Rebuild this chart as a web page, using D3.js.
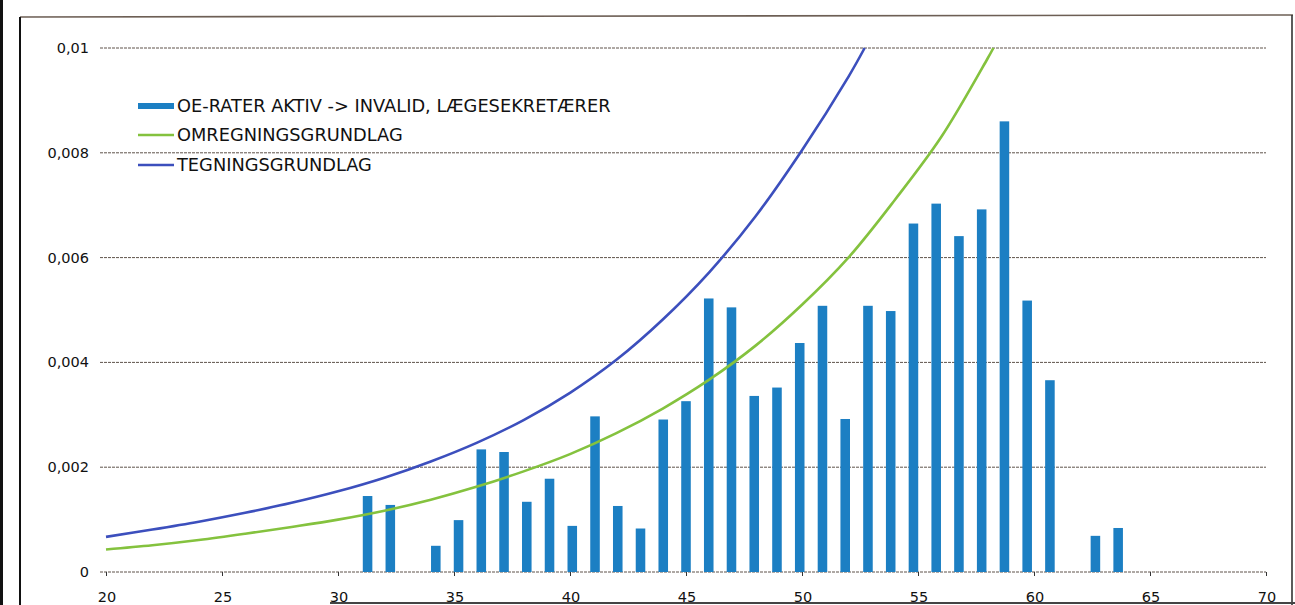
<!doctype html>
<html lang="da">

<head>
    <meta charset="UTF-8" />
    <title>OE-rater aktiv -> invalid</title>
    <script src="https://d3js.org/d3.v7.min.js"></script>
    <style>
        body,
        html {
            margin: 0;
            padding: 0;
            background: #ffffff;
            overflow: hidden;
        }
        
        svg {
            display: block;
            font-family: "DejaVu Sans", Verdana, sans-serif;
        }
        
        .grid line {
            stroke: #5e534b;
            stroke-width: 1;
            stroke-dasharray: 3, 1;
        }
        
        .tick-label {
            font-size: 14.5px;
            fill: #111;
        }
        
        .legend text {
            font-size: 17.8px;
            fill: #111;
        }
    </style>
</head>

<body>
    <svg id="chart" width="1295" height="605"></svg>
    <script>
        // bars: observed rates per age
        const barAges = [31, 32, 34, 35, 36, 37, 38, 39, 40, 41, 42, 43, 44, 45, 46, 47, 48, 49, 50,
            51, 52, 53, 54, 55, 56, 57, 58, 59, 60, 61, 63, 64
        ];
        const barValues = [0.00145, 0.00128, 0.00050, 0.00099, 0.00234, 0.00229, 0.00134, 0.00178,
            0.00088, 0.00297, 0.00126, 0.00083, 0.00291, 0.00326, 0.00522, 0.00505, 0.00336,
            0.00352, 0.00437, 0.00508, 0.00292, 0.00508, 0.00498, 0.00665, 0.00703, 0.00641,
            0.00692, 0.00860, 0.00518, 0.00366, 0.00069, 0.00084
        ];

        // TEGNINGSGRUNDLAG (blue line)
        const tegningAges = [20, 22, 24, 26, 28, 30, 32, 34, 36, 38, 40, 42, 44, 46, 48, 50, 52, 52.7];
        const tegningValues = [0.00067, 0.00081, 0.00096, 0.00113, 0.00132, 0.00154, 0.00180, 0.00211,
            0.00247, 0.00290, 0.00342, 0.00405, 0.00482, 0.00572, 0.00679, 0.00805, 0.00945, 0.01
        ];

        // OMREGNINGSGRUNDLAG (green line)
        const omregningAges = [20, 22, 24, 26, 28, 30, 32, 34, 36, 38, 40, 42, 44, 46, 48, 50, 52, 54, 56, 58, 58.25];
        const omregningValues = [0.00043, 0.00051, 0.00061, 0.00073, 0.00086, 0.00100, 0.00117, 0.00138,
            0.00163, 0.00192, 0.00225, 0.00265, 0.00312, 0.00367, 0.00432, 0.00510, 0.00600,
            0.00710, 0.00830, 0.00980, 0.01
        ];

        const xTicks = [20, 25, 30, 35, 40, 45, 50, 55, 60, 65, 70];
        const yTicks = [0, 0.002, 0.004, 0.006, 0.008, 0.01];
        const yTickLabels = ["0", "0,002", "0,004", "0,006", "0,008", "0,01"];

        const legendLabels = ["OE-RATER AKTIV -> INVALID, LÆGESEKRETÆRER", "OMREGNINGSGRUNDLAG", "TEGNINGSGRUNDLAG"];

        const barColor = "#1c7fc3";
        const greenColor = "#84c23e";
        const blueColor = "#3c4fbd";

        const svg = d3.select("#chart");
        const plotLeft = 106,
            plotRight = 1266,
            plotTop = 48,
            plotBottom = 572;

        const x = d3.scaleLinear().domain([20, 70]).range([plotLeft, plotRight]);
        const y = d3.scaleLinear().domain([0, 0.01]).range([plotBottom, plotTop]);
        const band = d3.scaleBand()
            .domain(d3.range(20, 71))
            .range([plotLeft, plotRight])
            .paddingInner(0.58)
            .paddingOuter(0.29);

        // frame (scanned page edges)
        svg.append("rect").attr("x", 0).attr("y", 0).attr("width", 3).attr("height", 605).attr("fill", "#111");
        svg.append("line").attr("x1", 20).attr("x2", 1293).attr("y1", 17).attr("y2", 15)
            .attr("stroke", "#6d5f55").attr("stroke-width", 1.6);
        svg.append("line").attr("x1", 20).attr("x2", 20).attr("y1", 17).attr("y2", 605)
            .attr("stroke", "#111").attr("stroke-width", 2);
        svg.append("line").attr("x1", 1292).attr("x2", 1292).attr("y1", 15).attr("y2", 605)
            .attr("stroke", "#333").attr("stroke-width", 1.6);
        svg.append("line").attr("x1", 330).attr("x2", 1295).attr("y1", 603).attr("y2", 603)
            .attr("stroke", "#444").attr("stroke-width", 2);

        // gridlines
        svg.append("g").attr("class", "grid")
            .selectAll("line")
            .data(yTicks)
            .join("line")
            .attr("x1", plotLeft - 6)
            .attr("x2", plotRight)
            .attr("y1", d => y(d))
            .attr("y2", d => y(d));

        // y labels
        svg.append("g")
            .selectAll("text")
            .data(yTicks)
            .join("text")
            .attr("class", "tick-label")
            .attr("x", 89)
            .attr("y", d => y(d))
            .attr("dy", "0.35em")
            .attr("text-anchor", "end")
            .text((d, i) => yTickLabels[i]);

        // x axis ticks + labels
        const xAxis = d3.axisBottom(x)
            .tickValues(xTicks)
            .tickSize(4)
            .tickFormat("");
        const xg = svg.append("g").attr("transform", `translate(0,${plotBottom})`).call(xAxis);
        xg.select(".domain").remove();
        xg.selectAll(".tick line").attr("stroke", "#333");

        svg.append("g")
            .selectAll("text")
            .data(xTicks)
            .join("text")
            .attr("class", "tick-label")
            .attr("x", d => x(d) + 1)
            .attr("y", 602)
            .attr("text-anchor", "middle")
            .text(d => d);

        // bars
        svg.append("g")
            .selectAll("rect")
            .data(barAges)
            .join("rect")
            .attr("x", d => band(d))
            .attr("width", band.bandwidth())
            .attr("y", (d, i) => y(barValues[i]))
            .attr("height", (d, i) => y(0) - y(barValues[i]))
            .attr("fill", barColor);

        // lines
        const line = d3.line()
            .x(d => x(d[0]))
            .y(d => y(d[1]))
            .curve(d3.curveCatmullRom.alpha(0.5));

        svg.append("path")
            .datum(omregningAges.map((a, i) => [a, omregningValues[i]]))
            .attr("d", line)
            .attr("fill", "none")
            .attr("stroke", greenColor)
            .attr("stroke-width", 2.6);

        svg.append("path")
            .datum(tegningAges.map((a, i) => [a, tegningValues[i]]))
            .attr("d", line)
            .attr("fill", "none")
            .attr("stroke", blueColor)
            .attr("stroke-width", 2.6);

        // legend
        const legend = svg.append("g").attr("class", "legend");
        const rowY = [106, 135, 165];

        legend.append("rect")
            .attr("x", 138).attr("y", rowY[0] - 3)
            .attr("width", 36).attr("height", 6)
            .attr("fill", barColor);
        legend.append("line")
            .attr("x1", 138).attr("x2", 174)
            .attr("y1", rowY[1]).attr("y2", rowY[1])
            .attr("stroke", greenColor).attr("stroke-width", 2.4);
        legend.append("line")
            .attr("x1", 138).attr("x2", 174)
            .attr("y1", rowY[2]).attr("y2", rowY[2])
            .attr("stroke", blueColor).attr("stroke-width", 2.4);

        legend.selectAll("text")
            .data(legendLabels)
            .join("text")
            .attr("x", 177)
            .attr("y", (d, i) => rowY[i])
            .attr("dy", "0.36em")
            .text(d => d);
    </script>
</body>

</html>
